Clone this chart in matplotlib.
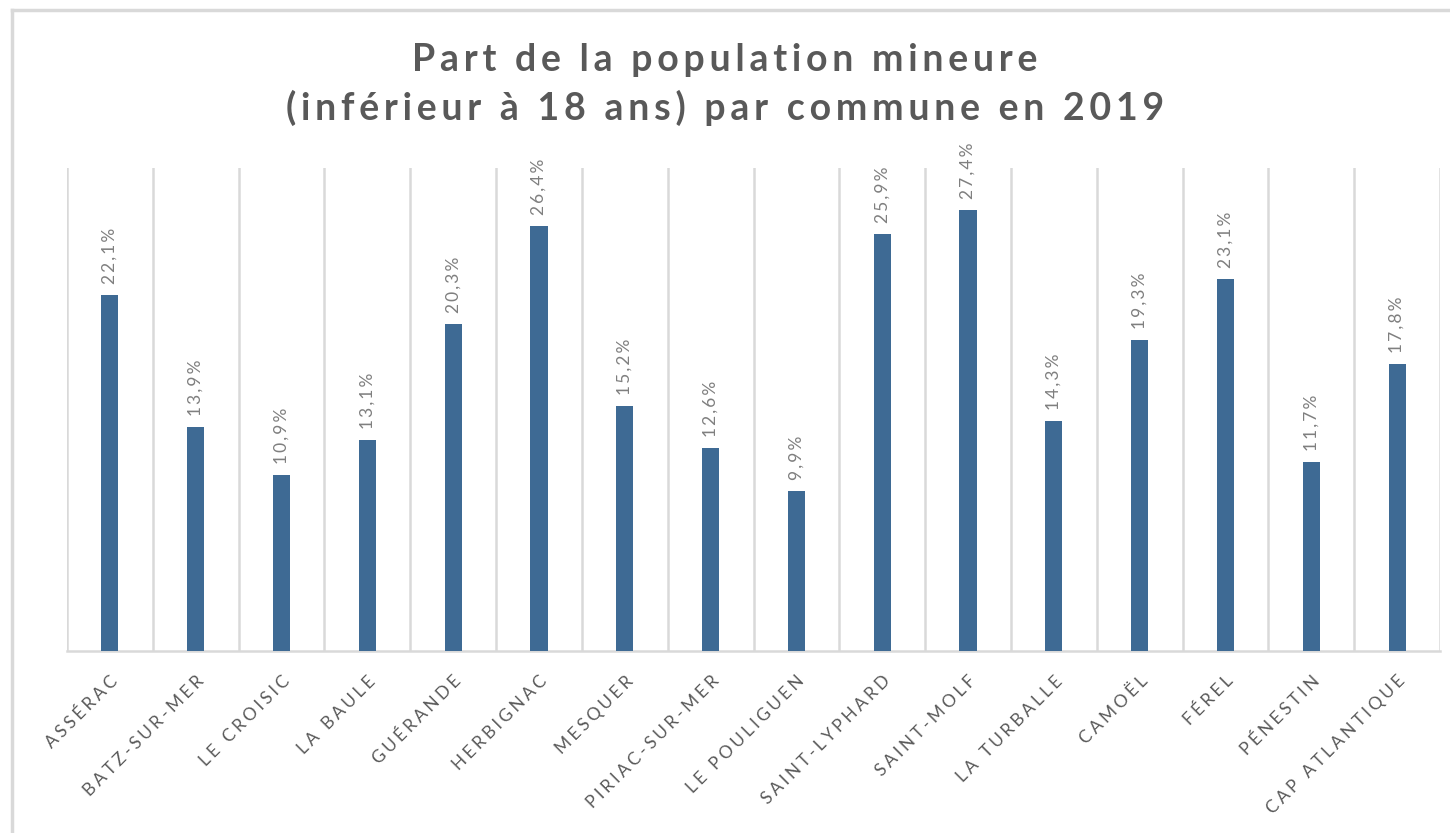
import matplotlib
matplotlib.use("Agg")
import matplotlib.pyplot as plt
from matplotlib.lines import Line2D

communes = ["ASSÉRAC", "BATZ-SUR-MER", "LE CROISIC", "LA BAULE", "GUÉRANDE",
            "HERBIGNAC", "MESQUER", "PIRIAC-SUR-MER", "LE POULIGUEN",
            "SAINT-LYPHARD", "SAINT-MOLF", "LA TURBALLE", "CAMOËL", "FÉREL",
            "PÉNESTIN", "CAP ATLANTIQUE"]
parts = [22.1, 13.9, 10.9, 13.1, 20.3, 26.4, 15.2, 12.6, 9.9, 25.9, 27.4,
         14.3, 19.3, 23.1, 11.7, 17.8]
title_lines = ["Part de la population mineure",
               "(inférieur à 18 ans) par commune en 2019"]

W, H, DPI = 1450, 833, 100
fig = plt.figure(figsize=(W / DPI, H / DPI), dpi=DPI)
plt.rcParams['font.family'] = ['Lato', 'DejaVu Sans']

def spaced(s, sep="\u200a"):
    return sep.join(list(s))

# border (top and left visible)
fig.add_artist(Line2D([12 / W, 1.0], [1 - 10 / H, 1 - 10 / H], color="#d9d9d9", lw=2.5,
                      transform=fig.transFigure))
fig.add_artist(Line2D([12 / W, 12 / W], [0.0, 1 - 10 / H], color="#d9d9d9", lw=2.5,
                      transform=fig.transFigure))

left, right, bottom, top = 67 / W, 1440 / W, 1 - 650.7 / H, 1 - 168 / H
ax = fig.add_axes([left, bottom, right - left, top - bottom])

x = list(range(len(communes)))
ax.bar(x, parts, width=0.2, color="#3E6A94", zorder=3)
ax.set_xlim(-0.5, len(communes) - 0.5)
ax.set_ylim(0, 30)

for xi, v in zip(x, parts):
    ax.annotate(spaced(f"{v:.1f}%".replace(".", ","), "\u2009"), (xi, v), xytext=(0, 8),
                textcoords="offset points", rotation=90, ha="center", va="bottom",
                fontsize=12.5, color="#7f7f7f")

# vertical gridlines between categories
for b in [i - 0.5 for i in range(len(communes) + 1)]:
    ax.axvline(b, color="#d9d9d9", lw=1.8, zorder=1)

for s in ["top", "right", "left"]:
    ax.spines[s].set_visible(False)
ax.spines["bottom"].set_color("#d9d9d9")
ax.spines["bottom"].set_linewidth(1.8)
ax.set_yticks([])
ax.set_xticks(x)
ax.set_xticklabels([spaced(c, "\u2009\u200a") for c in communes],
                   rotation=45, ha="right", rotation_mode="anchor",
                   fontsize=12.5, color="#595959")
ax.tick_params(axis="x", length=0, pad=16)

fig.text(0.5, 1 - 60 / H, spaced(title_lines[0], "\u2009"), ha="center", va="center",
         fontsize=27, fontweight="bold", color="#595959")
fig.text(0.5, 1 - 108 / H, spaced(title_lines[1], "\u2009"), ha="center", va="center",
         fontsize=27, fontweight="bold", color="#595959")

fig.savefig("out.png", dpi=DPI)
